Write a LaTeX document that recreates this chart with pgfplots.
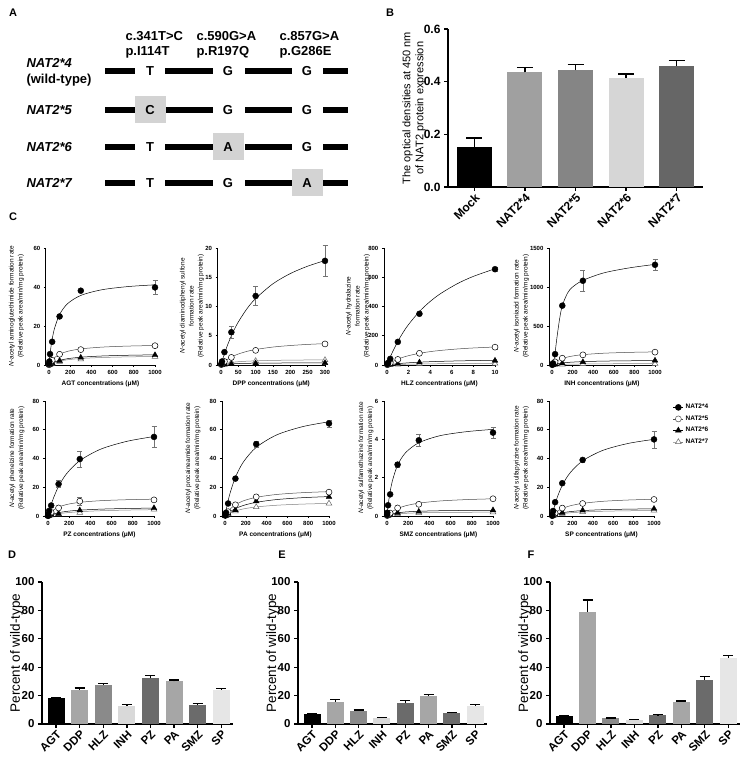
\documentclass[border=0pt]{standalone}
\usepackage{fontspec}
\setmainfont{Liberation Sans}
\usepackage{pgfplots}
\pgfplotsset{compat=1.18}
\newcommand{\fs}[2]{\fontsize{#1}{#2}\selectfont}
\definecolor{boxg}{RGB}{211,211,211}
\definecolor{gB4}{RGB}{160,160,160}
\definecolor{gB5}{RGB}{133,133,133}
\definecolor{gB6}{RGB}{214,214,214}
\definecolor{gB7}{RGB}{102,102,102}
\definecolor{dDDP}{RGB}{166,166,166}
\definecolor{dHLZ}{RGB}{138,138,138}
\definecolor{dINH}{RGB}{217,217,217}
\definecolor{dPZ}{RGB}{107,107,107}
\definecolor{dPA}{RGB}{166,166,166}
\definecolor{dSMZ}{RGB}{107,107,107}
\definecolor{dSP}{RGB}{230,230,230}
\pgfplotsset{
  cplot/.style={scale only axis, axis x line*=bottom, axis y line*=left, tick align=outside,
    major tick length=2pt, axis line style={line width=0.6pt, black},
    every tick/.style={black, line width=0.6pt},
    tick label style={font=\bfseries\fs{6}{7}},
    /pgf/number format/assume math mode=true, /pgf/number format/1000 sep={},
    scaled ticks=false,
    xlabel style={font=\bfseries\fs{6.5}{8}, at={(axis description cs:0.5,0)}, anchor=center, yshift=-19pt},
    clip=false, ymin=0, xmin=-30, xmax=1000, xtick={0,200,...,1000}},
  c4/.style={black, line width=0.5pt, smooth, no marks},
  c5/.style={black!70, line width=0.5pt, smooth, no marks},
  c6/.style={black, line width=0.5pt, smooth, no marks},
  c7/.style={black!50, line width=0.5pt, smooth, no marks},
  p4/.style={only marks, mark=*, mark size=3pt, mark options={fill=black, draw=black},
    error bars/y dir=both, error bars/y explicit,
    error bars/error bar style={black!55, line width=0.5pt},
    error bars/error mark options={rotate=90, black!55, mark size=2.5pt, line width=0.5pt}},
  p5/.style={only marks, mark=*, mark size=3pt, mark options={fill=white, draw=black, line width=0.5pt},
    error bars/y dir=both, error bars/y explicit,
    error bars/error bar style={black!55, line width=0.5pt},
    error bars/error mark options={rotate=90, black!55, mark size=2.5pt, line width=0.5pt}},
  p6/.style={only marks, mark=triangle*, mark size=3.3pt, mark options={fill=black, draw=black}},
  p7/.style={only marks, mark=triangle*, mark size=3.3pt, mark options={fill=white, draw=black!60, line width=0.5pt}},
  barax/.style={scale only axis, axis x line*=bottom, axis y line*=left, tick align=outside,
    major tick length=4pt, axis line style={line width=1.3pt, black},
    every tick/.style={black, line width=1.3pt}, ymin=0, clip=false,
    /pgf/number format/assume math mode=true,
    xticklabel style={rotate=45, anchor=north east, inner sep=1pt}},
  bb/.style={ybar, bar shift=0pt, draw=none, error bars/y dir=plus, error bars/y explicit,
    error bars/error bar style={black, line width=1.3pt},
    error bars/error mark options={rotate=90, black, line width=1.3pt, mark size=#1}},
}
\begin{document}
\begin{tikzpicture}[x=1pt,y=1pt]
\path[use as bounding box] (0,0) rectangle (742,758);
% ---------------- Panel A ----------------
\node[font=\bfseries\fs{11}{13}] at (13,745) {A};
\node[font=\bfseries\fs{13}{15}, align=left, anchor=west] at (122,713.5) {c.341T>C\\p.I114T};
\node[font=\bfseries\fs{13}{15}, align=left, anchor=west] at (193,713.5) {c.590G>A\\p.R197Q};
\node[font=\bfseries\fs{13}{15}, align=left, anchor=west] at (276,713.5) {c.857G>A\\p.G286E};
\node[font=\bfseries\itshape\fs{13}{15}, anchor=west] at (23,695) {NAT2*4};
\node[font=\bfseries\fs{13}{15}, anchor=west] at (23,678) {(wild-type)};
\node[font=\bfseries\itshape\fs{13}{15}, anchor=west] at (23,648) {NAT2*5};
\node[font=\bfseries\itshape\fs{13}{15}, anchor=west] at (23,611) {NAT2*6};
\node[font=\bfseries\itshape\fs{13}{15}, anchor=west] at (23,575) {NAT2*7};
\foreach \yy in {687,648,611,575}{
  \draw[line width=6pt] (105,\yy) -- (135,\yy);
  \draw[line width=6pt] (165,\yy) -- (213,\yy);
  \draw[line width=6pt] (245,\yy) -- (292,\yy);
  \draw[line width=6pt] (323,\yy) -- (348,\yy);
}
\fill[boxg] (135,635) rectangle (166,662);
\fill[boxg] (213,598) rectangle (244,625);
\fill[boxg] (292,562) rectangle (323,589);
\begin{scope}[every node/.style={font=\bfseries\fs{13}{15}}]
\node at (150,687) {T}; \node at (228,687) {G}; \node at (307,687) {G};
\node at (150,648) {C}; \node at (228,648) {G}; \node at (307,648) {G};
\node at (150,611) {T}; \node at (228,611) {A}; \node at (307,611) {G};
\node at (150,575) {T}; \node at (228,575) {G}; \node at (307,575) {A};
\end{scope}
% ---------------- Panel B ----------------
\node[font=\bfseries\fs{11}{13}] at (390,745) {B};
\begin{axis}[barax, at={(448pt,571pt)}, anchor=south west, width=255pt, height=158pt,
  xmin=-0.52, xmax=4.52, ymax=0.6, ytick={0,0.2,0.4,0.6},
  /pgf/number format/fixed, /pgf/number format/fixed zerofill, /pgf/number format/precision=1,
  xtick={0,...,4}, xticklabels={Mock,NAT2*4,NAT2*5,NAT2*6,NAT2*7},
  tick label style={font=\bfseries\fs{12}{14}}, bar width=35pt,
  ylabel={The optical densities at 450 nm\\of NAT2 protein expression},
  ylabel style={align=center, font=\fs{11}{13}, at={(axis description cs:-0.133,0.5)}, anchor=center}]
\addplot[bb=8pt, fill=black] coordinates {(0,0.152) +- (0,0.034)};
\addplot[bb=8pt, fill=gB4] coordinates {(1,0.435) +- (0,0.018)};
\addplot[bb=8pt, fill=gB5] coordinates {(2,0.444) +- (0,0.022)};
\addplot[bb=8pt, fill=gB6] coordinates {(3,0.413) +- (0,0.016)};
\addplot[bb=8pt, fill=gB7] coordinates {(4,0.459) +- (0,0.021)};
\end{axis}
% ---------------- Panel C ----------------
\node[font=\bfseries\fs{11}{13}] at (13,541) {C};
\begin{scope}[every node/.style={rotate=90, align=center, font=\fs{6.5}{9}}]
\node at (16.5,452) {\textit{N}-acetyl aminoglutethimide formation rate\\(Relative peak area/min/mg protein)};
\node at (192,452) {\textit{N}-acetyl diaminodiphenyl sulfone\\formation rate\\(Relative peak area/min/mg protein)};
\node at (358,452) {\textit{N}-acetyl hydralazine\\formation rate\\(Relative peak area/min/mg protein)};
\node at (521.5,452) {\textit{N}-acetyl isoniazid formation rate\\(Relative peak area/min/mg protein)};
\node at (17,300) {\textit{N}-acetyl phenelzine formation rate\\(Relative peak area/min/mg protein)};
\node at (193,300) {\textit{N}-acetyl procaineamide formation rate\\(Relative peak area/min/mg protein)};
\node at (366,300) {\textit{N}-acetyl sulfamethazine formation rate\\(Relative peak area/min/mg protein)};
\node at (521.5,300) {\textit{N}-acetyl sulfapyrizine formation rate\\(Relative peak area/min/mg protein)};
\end{scope}
% AGT
\begin{axis}[cplot, at={(45.8pt,393pt)}, anchor=south west, width=109.2pt, height=117pt,
  ymax=60, ytick={0,20,40,60}, xlabel={AGT concentrations (μM)}]
\addplot[c7] coordinates {(0,0)(10,0.31)(25,0.71)(50,1.25)(100,2.0)(175,2.69)(300,3.33)(500,3.85)(750,4.17)(1000,4.35)};
\addplot[c6] coordinates {(0,0)(10,0.375)(25,0.857)(50,1.5)(100,2.4)(175,3.23)(300,4.0)(500,4.62)(750,5.0)(1000,5.22)};
\addplot[c5] coordinates {(0,0)(10,1.0)(25,2.2)(50,3.67)(100,5.5)(175,7.0)(300,8.25)(500,9.17)(750,9.71)(1000,10.0)};
\addplot[c4] coordinates {(0,0)(10,5.5)(25,11.58)(50,18.33)(100,25.88)(175,31.43)(300,35.68)(500,38.6)(750,40.24)(1000,41.12)};
\addplot[p7] coordinates {(3,0.1)(10,0.3)(30,0.8)(100,1.7)(300,2.9)(1000,4.3)};
\addplot[p6] coordinates {(3,0.15)(10,0.4)(30,1.0)(100,2.2)(300,3.8)(1000,5.1)};
\addplot[p5] coordinates {(1,0.1)(3,0.3)(10,1.0)(30,2.4)(100,5.5)(300,7.9)(1000,9.9) +- (0,0.8)};
\addplot[p4] coordinates {(1,0.6)(3,1.8)(10,5.6)(30,11.9)(100,24.9)(300,38.1)(1000,39.8) +- (0,3.5)};
\end{axis}
% DPP
\begin{axis}[cplot, at={(217.5pt,393pt)}, anchor=south west, width=107.5pt, height=117pt,
  xmin=-10, xmax=300, xtick={0,50,...,300}, ymax=20, ytick={0,5,...,20}, xlabel={DPP concentrations (μM)}]
\addplot[c7] coordinates {(0,0)(5,0.11)(10,0.2)(20,0.33)(35,0.47)(50,0.56)(75,0.65)(100,0.71)(150,0.79)(200,0.83)(250,0.86)(300,0.88)};
\addplot[c6] coordinates {(0,0)(5,0.057)(10,0.1)(20,0.16)(35,0.215)(50,0.25)(75,0.286)(100,0.31)(150,0.333)(200,0.348)(250,0.357)(300,0.364)};
\addplot[c5] coordinates {(0,0)(5,0.3)(10,0.56)(20,1.0)(35,1.5)(50,1.875)(75,2.33)(100,2.65)(150,3.07)(200,3.33)(250,3.52)(300,3.65)};
\addplot[c4] coordinates {(0,0)(5,1.0)(10,1.92)(20,3.57)(35,5.65)(50,7.35)(75,9.62)(100,11.36)(150,13.89)(200,15.63)(250,16.89)(300,17.86)};
\addplot[p7] coordinates {(3,0.05)(10,0.2)(30,0.45)(100,0.7)(300,0.85)};
\addplot[p6] coordinates {(3,0.03)(10,0.1)(30,0.2)(100,0.3)(300,0.35)};
\addplot[p5] coordinates {(1,0.06)(3,0.2)(10,0.6)(30,1.3)(100,2.5)(300,3.6)};
\addplot[p4] coordinates {(1,0.2)(3,0.6)(10,2.2)(30,5.6) +- (0,1.0)(100,11.8) +- (0,1.6)(300,17.8) +- (0,2.7)};
\end{axis}
% HLZ
\begin{axis}[cplot, at={(383.8pt,393pt)}, anchor=south west, width=111.2pt, height=117pt,
  xmin=-0.3, xmax=10, xtick={0,2,...,10}, ymax=800, ytick={0,200,...,800}, xlabel={HLZ concentrations (μM)}]
\addplot[c7] coordinates {(0,0)(0.25,1.08)(0.5,2)(1,3.5)(1.5,4.67)(2,5.6)(3,7)(4,8)(5,8.75)(6.5,9.58)(8,10.18)(10,10.77)};
\addplot[c6] coordinates {(0,0)(0.25,2.65)(0.5,5)(1,9)(1.5,12.3)(2,15)(3,19.3)(4,22.5)(5,25)(6.5,27.9)(8,30)(10,32.1)};
\addplot[c5] coordinates {(0,0)(0.25,12.3)(0.5,22.9)(1,40)(1.5,53.3)(2,64)(3,80)(4,91.4)(5,100)(6.5,109.5)(8,116.4)(10,123.1)};
\addplot[c4] coordinates {(0,0)(0.25,45.9)(0.5,87.7)(1,161.3)(1.5,223.9)(2,277.8)(3,365.9)(4,434.8)(5,490.2)(6.5,555.6)(8,606.1)(10,657.9)};
\addplot[p7] coordinates {(0.3,1)(1,3)(3,8)(10,10)};
\addplot[p6] coordinates {(0.1,1)(0.3,3)(1,8)(3,18)(10,30)};
\addplot[p5] coordinates {(0.03,1.5)(0.1,5)(0.3,15)(1,38)(3,80)(10,122) +- (0,15)};
\addplot[p4] coordinates {(0.03,6)(0.1,15)(0.3,42)(1,158)(3,350) +- (0,10)(10,655) +- (0,15)};
\end{axis}
% INH
\begin{axis}[cplot, at={(548.9pt,393pt)}, anchor=south west, width=106.1pt, height=117pt,
  ymax=1500, ytick={0,500,1000,1500}, xlabel={INH concentrations (μM)}]
\addplot[c7] coordinates {(0,0)(10,1.25)(25,2.86)(50,5)(75,6.67)(100,8)(150,10)(200,11.4)(300,13.3)(500,15.4)(750,16.7)(1000,17.4)};
\addplot[c6] coordinates {(0,0)(10,4.06)(25,9.29)(50,16.25)(75,21.7)(100,26)(150,32.5)(200,37.1)(300,43.3)(500,50)(750,54.2)(1000,56.5)};
\addplot[c5] coordinates {(0,0)(10,13.6)(25,30.6)(50,52.8)(75,69.5)(100,82.6)(150,101.8)(200,115.2)(300,132.6)(500,150.8)(750,161.9)(1000,168.1)};
\addplot[c4] coordinates {(0,0)(10,15)(25,110)(50,370)(75,600)(100,760)(150,920)(200,1000)(300,1085)(500,1180)(750,1245)(1000,1290)};
\addplot[p7] coordinates {(10,1)(30,3)(100,7)(300,13)(1000,17)};
\addplot[p6] coordinates {(10,4)(30,10)(100,22)(300,38)(1000,57)};
\addplot[p5] coordinates {(3,3)(10,15)(30,40)(100,87)(300,130)(1000,165)};
\addplot[p4] coordinates {(3,5)(10,20)(30,139)(100,761)(300,1080) +- (0,135)(1000,1285) +- (0,70)};
\end{axis}
% PZ
\begin{axis}[cplot, at={(44.8pt,242pt)}, anchor=south west, width=109.2pt, height=115pt,
  ymax=80, ytick={0,20,...,80}, xlabel={PZ concentrations (μM)}]
\addplot[c7] coordinates {(0,0)(10,0.21)(25,0.5)(50,0.92)(100,1.57)(175,2.26)(300,3.0)(500,3.67)(750,4.13)(1000,4.4)};
\addplot[c6] coordinates {(0,0)(10,0.34)(25,0.79)(50,1.41)(100,2.32)(175,3.2)(300,4.06)(500,4.78)(750,5.24)(1000,5.51)};
\addplot[c5] coordinates {(0,0)(10,1.08)(25,2.41)(50,4.06)(100,6.19)(175,7.98)(300,9.51)(500,10.66)(750,11.34)(1000,11.71)};
\addplot[c4] coordinates {(0,0)(10,2.83)(25,6.67)(50,12.14)(100,20.6)(175,29.38)(300,38.49)(500,46.58)(750,52.04)(1000,55.28)};
\addplot[p7] coordinates {(3,0.05)(10,0.2)(30,0.6)(100,1.2)(300,2.3)(1000,4.5)};
\addplot[p6] coordinates {(3,0.1)(10,0.3)(30,0.9)(100,1.6)(300,4.0)(1000,5.5)};
\addplot[p5] coordinates {(1,0.1)(3,0.3)(10,1)(30,2.5)(100,5.6)(300,10.3) +- (0,2.5)(1000,11.2) +- (0,1)};
\addplot[p4] coordinates {(1,0.3)(3,1)(10,3.5)(30,7.3)(100,22.2) +- (0,2.5)(300,39.6) +- (0,5.5)(1000,55) +- (0,7.5)};
\end{axis}
% PA
\begin{axis}[cplot, at={(221.9pt,242pt)}, anchor=south west, width=107.1pt, height=115pt,
  ymax=80, ytick={0,20,...,80}, xlabel={PA concentrations (μM)}]
\addplot[c7] coordinates {(0,0)(10,0.5)(25,1.17)(50,2.1)(100,3.5)(175,4.9)(300,6.3)(500,7.5)(750,8.29)(1000,8.75)};
\addplot[c6] coordinates {(0,0)(10,0.72)(25,1.68)(50,3.06)(100,5.16)(175,7.31)(300,9.52)(500,11.46)(750,12.76)(1000,13.52)};
\addplot[c5] coordinates {(0,0)(10,1.22)(25,2.79)(50,4.88)(100,7.8)(175,10.5)(300,13)(500,15)(750,16.25)(1000,16.96)};
\addplot[c4] coordinates {(0,0)(10,3.9)(25,9.07)(50,16.25)(100,26.9)(175,37.4)(300,47.76)(500,56.52)(750,62.23)(1000,65.55)};
\addplot[p7] coordinates {(3,0.1)(10,0.4)(30,1.2)(100,3.4)(300,6.2)(1000,8.7)};
\addplot[p6] coordinates {(3,0.2)(10,0.5)(30,1.8)(100,4.1)(300,10.3)(1000,13.3)};
\addplot[p5] coordinates {(3,0.3)(10,1)(30,3)(100,7.8)(300,13.3)(1000,16.6)};
\addplot[p4] coordinates {(1,0.5)(3,1)(10,2.3)(30,8.7)(100,26)(300,50) +- (0,2)(1000,64.4) +- (0,2.5)};
\end{axis}
% SMZ
\begin{axis}[cplot, at={(383.8pt,242pt)}, anchor=south west, width=109.2pt, height=115pt,
  ymax=6, ytick={0,2,4,6}, xlabel={SMZ concentrations (μM)}]
\addplot[c7] coordinates {(0,0)(10,0.02)(25,0.044)(50,0.073)(100,0.11)(175,0.14)(300,0.165)(500,0.183)(750,0.194)(1000,0.2)};
\addplot[c6] coordinates {(0,0)(10,0.03)(25,0.066)(50,0.11)(100,0.165)(175,0.21)(300,0.2475)(500,0.275)(750,0.291)(1000,0.3)};
\addplot[c5] coordinates {(0,0)(10,0.058)(25,0.135)(50,0.239)(100,0.389)(175,0.533)(300,0.67)(500,0.784)(750,0.856)(1000,0.897)};
\addplot[c4] coordinates {(0,0)(10,0.516)(25,1.11)(50,1.81)(100,2.65)(175,3.3)(300,3.82)(500,4.19)(750,4.4)(1000,4.52)};
\addplot[p7] coordinates {(10,0.02)(30,0.05)(100,0.1)(300,0.16)(1000,0.2)};
\addplot[p6] coordinates {(10,0.03)(30,0.07)(100,0.17)(300,0.23)(1000,0.3)};
\addplot[p5] coordinates {(3,0.02)(10,0.06)(30,0.15)(100,0.42)(300,0.61)(1000,0.9)};
\addplot[p4] coordinates {(1,0.06)(3,0.17)(10,0.56)(30,1.13)(100,2.68) +- (0,0.12)(300,3.95) +- (0,0.3)(1000,4.35) +- (0,0.3)};
\end{axis}
% SP
\begin{axis}[cplot, at={(549pt,242pt)}, anchor=south west, width=105pt, height=115pt,
  ymax=80, ytick={0,20,...,80}, xlabel={SP concentrations (μM)},
  legend style={draw=none, fill=none, at={(1.18,0.99)}, anchor=north west,
    font=\bfseries\fs{6.5}{8}, row sep=1.5pt, inner sep=0pt},
  legend cell align=left,
  legend image code/.code={\draw[mark repeat=2,mark phase=2,#1] plot coordinates {(0pt,0pt) (5pt,0pt) (10pt,0pt)};}]
\addlegendimage{black, line width=0.5pt, mark=*, mark size=3pt, mark options={fill=black}}
\addlegendentry{NAT2*4}
\addlegendimage{black!70, line width=0.5pt, mark=*, mark size=3pt, mark options={fill=white, draw=black!70}}
\addlegendentry{NAT2*5}
\addlegendimage{black, line width=0.5pt, mark=triangle*, mark size=3.3pt, mark options={fill=black}}
\addlegendentry{NAT2*6}
\addlegendimage{black!50, line width=0.5pt, mark=triangle*, mark size=3.3pt, mark options={fill=white, draw=black!60}}
\addlegendentry{NAT2*7}
\addplot[c7] coordinates {(0,0)(10,0.24)(25,0.55)(50,0.98)(100,1.61)(175,2.22)(300,2.81)(500,3.31)(750,3.63)(1000,3.81)};
\addplot[c6] coordinates {(0,0)(10,0.34)(25,0.78)(50,1.38)(100,2.23)(175,3.03)(300,3.78)(500,4.39)(750,4.78)(1000,5.0)};
\addplot[c5] coordinates {(0,0)(10,0.79)(25,1.82)(50,3.21)(100,5.19)(175,7.05)(300,8.8)(500,10.23)(750,11.13)(1000,11.64)};
\addplot[c4] coordinates {(0,0)(10,3.05)(25,7.11)(50,12.8)(100,21.33)(175,29.87)(300,38.4)(500,45.71)(750,50.53)(1000,53.33)};
\addplot[p7] coordinates {(10,0.2)(30,0.6)(100,1.5)(300,2.8)(1000,3.9)};
\addplot[p6] coordinates {(10,0.3)(30,0.8)(100,2.3)(300,3.9)(1000,5)};
\addplot[p5] coordinates {(3,0.2)(10,0.8)(30,2)(100,5.5)(300,8.7)(1000,11.5)};
\addplot[p4] coordinates {(1,0.3)(3,1)(10,3.5)(30,9.6)(100,22.8)(300,39) +- (0,1.5)(1000,53.3) +- (0,6)};
\end{axis}
% ---------------- Panels D, E, F ----------------
\node[font=\bfseries\fs{11}{13}] at (12,203) {D};
\node[font=\bfseries\fs{11}{13}] at (282,203) {E};
\node[font=\bfseries\fs{11}{13}] at (531,203) {F};
\pgfplotsset{defax/.style={barax, anchor=south west, height=142pt,
  xmin=-0.6, xmax=7.5, ymax=100, ytick={0,20,...,100}, xtick={0,...,7},
  xticklabels={AGT,DDP,HLZ,INH,PZ,PA,SMZ,SP},
  tick label style={font=\bfseries\fs{11.5}{13}}, bar width=17pt,
  ylabel={Percent of wild-type},
  ylabel style={font=\fs{13.5}{15}, at={(axis description cs:-0.134,0.5)}, anchor=center}}}
\begin{axis}[defax, at={(42pt,34pt)}, width=191pt]
\addplot[bb=5pt, fill=black] coordinates {(0,18.4) +- (0,0.4)};
\addplot[bb=5pt, fill=dDDP] coordinates {(1,24.2) +- (0,1.2)};
\addplot[bb=5pt, fill=dHLZ] coordinates {(2,27.8) +- (0,0.5)};
\addplot[bb=5pt, fill=dINH] coordinates {(3,12.9) +- (0,1.0)};
\addplot[bb=5pt, fill=dPZ] coordinates {(4,32.2) +- (0,2.2)};
\addplot[bb=5pt, fill=dPA] coordinates {(5,30.1) +- (0,0.9)};
\addplot[bb=5pt, fill=dSMZ] coordinates {(6,13.6) +- (0,1.0)};
\addplot[bb=5pt, fill=dSP] coordinates {(7,24.0) +- (0,0.9)};
\end{axis}
\begin{axis}[defax, at={(298pt,34pt)}, width=189pt]
\addplot[bb=5pt, fill=black] coordinates {(0,7.0) +- (0,0.3)};
\addplot[bb=5pt, fill=dDDP] coordinates {(1,15.5) +- (0,1.9)};
\addplot[bb=5pt, fill=dHLZ] coordinates {(2,9.4) +- (0,0.4)};
\addplot[bb=5pt, fill=dINH] coordinates {(3,4.3) +- (0,0.3)};
\addplot[bb=5pt, fill=dPZ] coordinates {(4,14.8) +- (0,1.6)};
\addplot[bb=5pt, fill=dPA] coordinates {(5,19.7) +- (0,1.0)};
\addplot[bb=5pt, fill=dSMZ] coordinates {(6,7.7) +- (0,0.4)};
\addplot[bb=5pt, fill=dSP] coordinates {(7,12.9) +- (0,0.7)};
\end{axis}
\begin{axis}[defax, at={(550pt,34pt)}, width=190pt]
\addplot[bb=5pt, fill=black] coordinates {(0,5.4) +- (0,0.2)};
\addplot[bb=5pt, fill=dDDP] coordinates {(1,79.0) +- (0,8.3)};
\addplot[bb=5pt, fill=dHLZ] coordinates {(2,4.0) +- (0,0.3)};
\addplot[bb=5pt, fill=dINH] coordinates {(3,3.0) +- (0,0.3)};
\addplot[bb=5pt, fill=dPZ] coordinates {(4,6.3) +- (0,0.3)};
\addplot[bb=5pt, fill=dPA] coordinates {(5,15.5) +- (0,0.7)};
\addplot[bb=5pt, fill=dSMZ] coordinates {(6,31.2) +- (0,2.4)};
\addplot[bb=5pt, fill=dSP] coordinates {(7,46.5) +- (0,1.9)};
\end{axis}
\end{tikzpicture}
\end{document}
